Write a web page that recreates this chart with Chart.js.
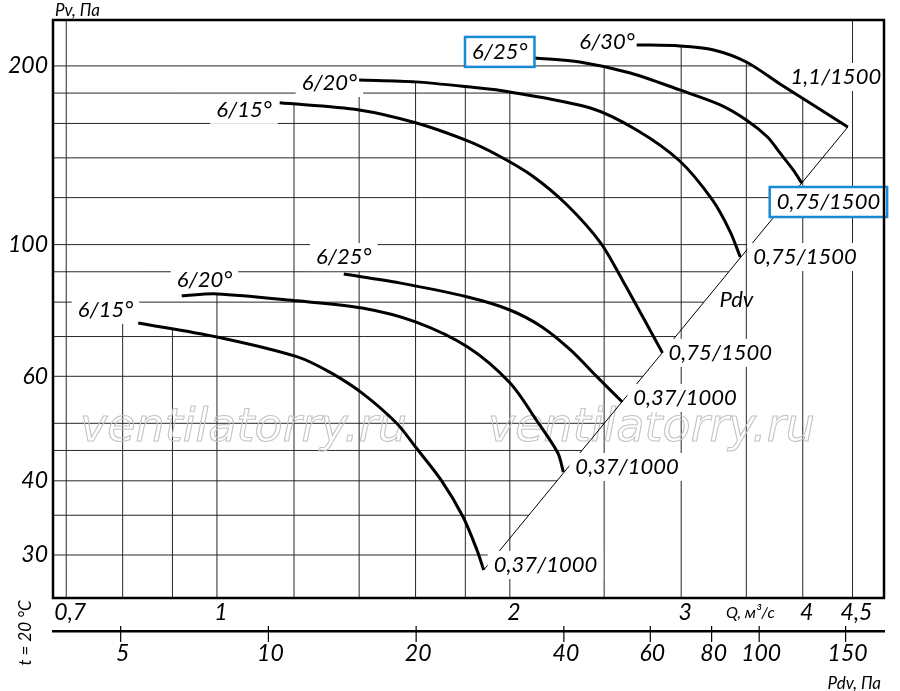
<!DOCTYPE html>
<html>
<head>
<meta charset="utf-8">
<title>Fan curves</title>
<script src="https://cdn.jsdelivr.net/npm/chart.js@4.4.1/dist/chart.umd.min.js"></script>
<style>
  html, body { margin: 0; padding: 0; background: #fff; }
</style>
</head>
<body>
<canvas id="fanChart" width="900" height="691"></canvas>
<script>
// Q in m3/s, Pv in Pa
const curveNames = ['6/15°', '6/20°', '6/25°', '6/15°', '6/20°', '6/25°', '6/30°'];
const motorLabels = ['0,37/1000', '0,37/1000', '0,37/1000', '0,75/1500', '0,75/1500', '0,75/1500', '1,1/1500'];

// 0,37 kW / 1000 rpm
const q15s = [0.83, 1.0, 1.21, 1.31, 1.41, 1.53, 1.6, 1.7, 1.79, 1.85, 1.88];
const p15s = [73.8, 69.9, 64.7, 60.8, 56.2, 50.0, 45.6, 40.1, 34.8, 30.6, 28.3];
const q20s = [0.92, 1.0, 1.21, 1.41, 1.6, 1.81, 2.0, 2.13, 2.24, 2.27];
const p20s = [82.0, 82.6, 80.4, 78.2, 74.1, 67.2, 58.5, 50.6, 44.6, 41.4];
const q25s = [1.35, 1.54, 1.81, 2.0, 2.16, 2.31, 2.46, 2.61];
const p25s = [89.2, 86.2, 81.6, 77.6, 72.6, 66.4, 59.8, 54.3];

// 0,75 and 1,1 kW / 1500 rpm
const q15b = [1.16, 1.4, 1.6, 1.81, 1.95, 2.11, 2.29, 2.48, 2.61, 2.74, 2.87];
const p15b = [173.3, 168.6, 160.4, 149.5, 141.0, 130.5, 116.6, 100.6, 87.2, 75.5, 65.7];
const q20b = [1.40, 1.6, 1.81, 2.0, 2.42, 2.7, 2.99, 3.23, 3.37, 3.45];
const p20b = [189.4, 188.0, 184.4, 180.8, 169.9, 156.0, 138.3, 118.9, 105.0, 95.3];
const q25b = [2.12, 2.36, 2.66, 2.99, 3.29, 3.5, 3.68, 3.79, 3.91, 3.99];
const p25b = [206.3, 203.1, 194.6, 182.2, 172.0, 162.2, 151.8, 142.7, 133.6, 127.0];
const q30 = [2.70, 2.99, 3.24, 3.5, 3.79, 4.1, 4.45];
const p30 = [217.0, 216.1, 212.8, 203.1, 186.5, 171.9, 157.8];

// dynamic pressure line through the curve ends
const pdvQ = [1.88, 4.45];
const pdvP = [28.3, 157.8];

// axes
const gridQ = [0.7, 0.8, 0.9, 1, 1.2, 1.4, 1.6, 1.8, 2, 2.5, 3, 3.5, 4, 4.5];
const gridP = [30, 35, 40, 45, 50, 60, 70, 80, 90, 100, 120, 140, 160, 180, 200];
const qTicks = [0.7, 1, 2, 3, 4, 4.5];
const pTicks = [30, 40, 60, 100, 200];
const pdvTicks = [5, 10, 20, 40, 60, 80, 100, 150];

const curvesQ = [q15s, q20s, q25s, q15b, q20b, q25b, q30];
const curvesP = [p15s, p20s, p25s, p15b, p20b, p25b, p30];

// label placement: offsets in px from first/last point of a curve
const nameLayout = [
  { dx: -5, dy: -13, align: 'right' },
  { dx: -5, dy: -16, align: 'left' },
  { dx: 0, dy: -17, align: 'center' },
  { dx: -8, dy: 7, align: 'right' },
  { dx: -2, dy: 3, align: 'right' },
  { dx: -7, dy: -6, align: 'right', boxed: true },
  { dx: -2, dy: -3, align: 'right' }
];
const motorLayout = [
  { dx: 10, dy: -5, align: 'left' },
  { dx: 12, dy: -5, align: 'left' },
  { dx: 11, dy: -4, align: 'left' },
  { dx: 6, dy: 0, align: 'left' },
  { dx: 13, dy: 0, align: 'left' },
  { dx: -25, dy: 19, align: 'left', boxed: true },
  { dx: -12, dy: -50, align: 'center' }
];

const FONT = 'Lato';
const labelFont = 'italic 22px ' + FONT;
const blue = '#1a8ad4';
const PDV_INDEX = 7;

function comma(v) { return String(v).replace('.', ','); }

function toPixels(chart, qs, ps) {
  const xs = chart.scales.x, ys = chart.scales.y;
  return qs.map((q, i) => [xs.getPixelForValue(q), ys.getPixelForValue(ps[i])]);
}
function yAtX(pts, px) {
  for (let i = 0; i < pts.length - 1; i++) {
    const [x0, y0] = pts[i], [x1, y1] = pts[i + 1];
    if (px >= x0 && px <= x1) return y0 + (y1 - y0) * (px - x0) / (x1 - x0);
  }
  return null;
}
function xAtY(pts, py) {
  let best = null;
  for (let i = 0; i < pts.length - 1; i++) {
    const [x0, y0] = pts[i], [x1, y1] = pts[i + 1];
    if ((py - y0) * (py - y1) <= 0 && y1 !== y0) {
      const x = x0 + (x1 - x0) * (py - y0) / (y1 - y0);
      if (best === null || x > best) best = x;
    }
  }
  return best;
}

function allLabels(chart) {
  const out = [];
  curvesQ.forEach((qs, i) => {
    const pts = toPixels(chart, qs, curvesP[i]);
    const s = pts[0], e = pts[pts.length - 1];
    const n = nameLayout[i], m = motorLayout[i];
    out.push({ text: curveNames[i], x: s[0] + n.dx, y: s[1] + n.dy, align: n.align, boxed: n.boxed });
    out.push({ text: motorLabels[i], x: e[0] + m.dx, y: e[1] + m.dy, align: m.align, boxed: m.boxed });
  });
  // "Pdv" sits on the line
  const xs = chart.scales.x, ys = chart.scales.y;
  const k = Math.log(pdvP[1] / pdvP[0]) / Math.log(pdvQ[1] / pdvQ[0]);
  const qa = 3.2, pa = pdvP[0] * Math.pow(qa / pdvQ[0], k);
  out.push({ text: 'Pdv', x: xs.getPixelForValue(qa) + 11, y: ys.getPixelForValue(pa) + 3, align: 'left', noBg: true });
  return out;
}

function labelBox(ctx, lb) {
  const w = ctx.measureText(lb.text).width;
  let left = lb.x;
  if (lb.align === 'right') left = lb.x - w;
  if (lb.align === 'center') left = lb.x - w / 2;
  return { left: left, right: left + w, w: w };
}

const fanPlugin = {
  id: 'fanPlugin',
  beforeDatasetsDraw(chart) {
    const ctx = chart.ctx, area = chart.chartArea;
    const xs = chart.scales.x, ys = chart.scales.y;
    const curvesPx = curvesQ.map((qs, i) => toPixels(chart, qs, curvesP[i]));
    ctx.save();
    ctx.strokeStyle = '#262626';
    ctx.lineWidth = 1;
    // vertical lines stop at the highest curve
    gridQ.forEach(q => {
      const px = xs.getPixelForValue(q);
      let top = null;
      curvesPx.forEach(pts => {
        const y = yAtX(pts, px);
        if (y !== null && (top === null || y < top)) top = y;
      });
      if (top === null) {
        const leftOfAll = curvesPx.every(p => p[0][0] > px);
        const first = curvesPx.slice().sort((a, b) => a[0][0] - b[0][0])[0][0];
        top = (leftOfAll && first[0] - px < 20) ? first[1] : area.top;
      }
      ctx.beginPath();
      ctx.moveTo(px, area.bottom);
      ctx.lineTo(px, top);
      ctx.stroke();
    });
    // horizontal lines stop at the 6/30 curve or at the Pdv line
    const gPts = curvesPx[6];
    const pdvPts = toPixels(chart, pdvQ, pdvP);
    gridP.forEach(p => {
      const py = ys.getPixelForValue(p);
      let right = null;
      if (p >= p30[p30.length - 1] && p <= p30[0]) right = xAtY(gPts, py);
      else if (p <= p25b[p25b.length - 1]) right = xAtY(pdvPts, py);
      if (right === null) right = area.right;
      ctx.beginPath();
      ctx.moveTo(area.left, py);
      ctx.lineTo(right, py);
      ctx.stroke();
    });
    // watermark
    ctx.font = 'oblique 46px "DejaVu Sans"';
    ctx.strokeStyle = '#c4c4c4';
    ctx.lineWidth = 1.1;
    ctx.textBaseline = 'alphabetic';
    ctx.textAlign = 'left';
    ctx.strokeText('ventilatorry.ru', area.left + 27, 441);
    ctx.strokeText('ventilatorry.ru', area.left + 435, 441);
    ctx.restore();
  },
  afterDatasetDraw(chart, args) {
    if (args.index !== PDV_INDEX) return;
    const ctx = chart.ctx;
    ctx.save();
    ctx.font = labelFont;
    ctx.fillStyle = '#fff';
    allLabels(chart).forEach(lb => {
      if (lb.noBg) return;
      const b = labelBox(ctx, lb);
      const pad = lb.boxed ? 7 : 6;
      ctx.fillRect(b.left - pad, lb.y - 14, b.w + pad * 2, 28);
    });
    ctx.restore();
  },
  afterDatasetsDraw(chart) {
    const ctx = chart.ctx;
    ctx.save();
    ctx.font = labelFont;
    ctx.fillStyle = '#000';
    ctx.textBaseline = 'middle';
    allLabels(chart).forEach(lb => {
      ctx.textAlign = lb.align;
      ctx.fillText(lb.text, lb.x, lb.y);
      if (lb.boxed) {
        const b = labelBox(ctx, lb);
        ctx.strokeStyle = blue;
        ctx.lineWidth = 2.5;
        ctx.strokeRect(b.left - 7, lb.y - 15, b.w + 14, 30);
      }
    });
    ctx.restore();
  },
  afterDraw(chart) {
    const ctx = chart.ctx, area = chart.chartArea;
    const x2 = chart.scales.x2;
    ctx.save();
    // frame
    ctx.strokeStyle = '#000';
    ctx.lineWidth = 2.5;
    ctx.strokeRect(area.left, area.top, area.right - area.left, area.bottom - area.top);
    // ticks of the Pdv scale cross its line
    ctx.lineWidth = 1.2;
    pdvTicks.forEach(v => {
      const px = x2.getPixelForValue(v);
      ctx.beginPath();
      ctx.moveTo(px, x2.top - 5);
      ctx.lineTo(px, x2.top + 11);
      ctx.stroke();
    });
    ctx.fillStyle = '#000';
    ctx.font = 'italic 17px ' + FONT;
    ctx.textBaseline = 'middle';
    ctx.textAlign = 'left';
    ctx.fillText('Pv, Па', area.left + 2, 11);
    ctx.textAlign = 'right';
    ctx.fillText('Pdv, Па', area.right - 3, 684);
    ctx.font = 'italic 16px ' + FONT;
    ctx.textAlign = 'center';
    ctx.fillText('Q, м³/с', chart.scales.x.getPixelForValue(3.5) + 4, 613);
    ctx.save();
    ctx.translate(26, 633);
    ctx.rotate(-Math.PI / 2);
    ctx.font = 'italic 17px ' + FONT;
    ctx.fillText('t = 20 °C', 0, 0);
    ctx.restore();
    ctx.restore();
  }
};

function buildChart() {
  const ctx = document.getElementById('fanChart').getContext('2d');
  const datasets = curvesQ.map((qs, i) => ({
    label: curveNames[i] + ' ' + motorLabels[i],
    data: qs.map((q, j) => ({ x: q, y: curvesP[i][j] })),
    borderColor: '#000',
    borderWidth: 3,
    pointRadius: 0,
    tension: 0.3,
    fill: false
  }));
  datasets.push({
    label: 'Pdv',
    data: pdvQ.map((q, j) => ({ x: q, y: pdvP[j] })),
    borderColor: '#000',
    borderWidth: 1,
    pointRadius: 0,
    tension: 0,
    fill: false
  });

  const tickFont = { family: FONT, size: 23, style: 'italic' };

  new Chart(ctx, {
    type: 'line',
    data: { datasets: datasets },
    options: {
      responsive: false,
      animation: false,
      events: [],
      layout: { padding: { top: 20, right: 16, left: 0, bottom: 0 } },
      plugins: { legend: { display: false }, tooltip: { enabled: false } },
      scales: {
        x: {
          type: 'logarithmic',
          position: 'bottom',
          weight: 0,
          min: 0.6784,
          max: 4.848,
          grid: { display: false, drawTicks: false },
          border: { display: false },
          afterBuildTicks: s => { s.ticks = qTicks.map(v => ({ value: v })); },
          afterFit: s => { s.height = 33; },
          ticks: {
            autoSkip: false, maxRotation: 0, padding: 1, labelOffset: 4,
            color: '#000', font: tickFont,
            callback: v => comma(v)
          }
        },
        x2: {
          type: 'logarithmic',
          position: 'bottom',
          weight: 1,
          min: 3.64,
          max: 179.6,
          grid: { display: false, drawTicks: false },
          border: { display: true, color: '#000', width: 2.5 },
          afterBuildTicks: s => { s.ticks = pdvTicks.map(v => ({ value: v })); },
          afterFit: s => { s.height = 60; },
          ticks: {
            autoSkip: false, maxRotation: 0, padding: 9, labelOffset: 2,
            color: '#000', font: tickFont,
            callback: v => comma(v)
          }
        },
        y: {
          type: 'logarithmic',
          position: 'left',
          min: 25.39,
          max: 239,
          grid: { display: false, drawTicks: false },
          border: { display: false },
          afterBuildTicks: s => { s.ticks = pTicks.map(v => ({ value: v })); },
          afterFit: s => { s.width = 53; },
          ticks: {
            autoSkip: false, padding: 5,
            color: '#000', font: tickFont,
            callback: v => comma(v)
          }
        }
      }
    },
    plugins: [fanPlugin]
  });
}

const fontsReady = document.fonts && document.fonts.load
  ? Promise.all([
      document.fonts.load('italic 22px Lato'),
      document.fonts.load('oblique 46px "DejaVu Sans"')
    ]).catch(() => null)
  : Promise.resolve();
fontsReady.then(buildChart);
</script>
</body>
</html>
